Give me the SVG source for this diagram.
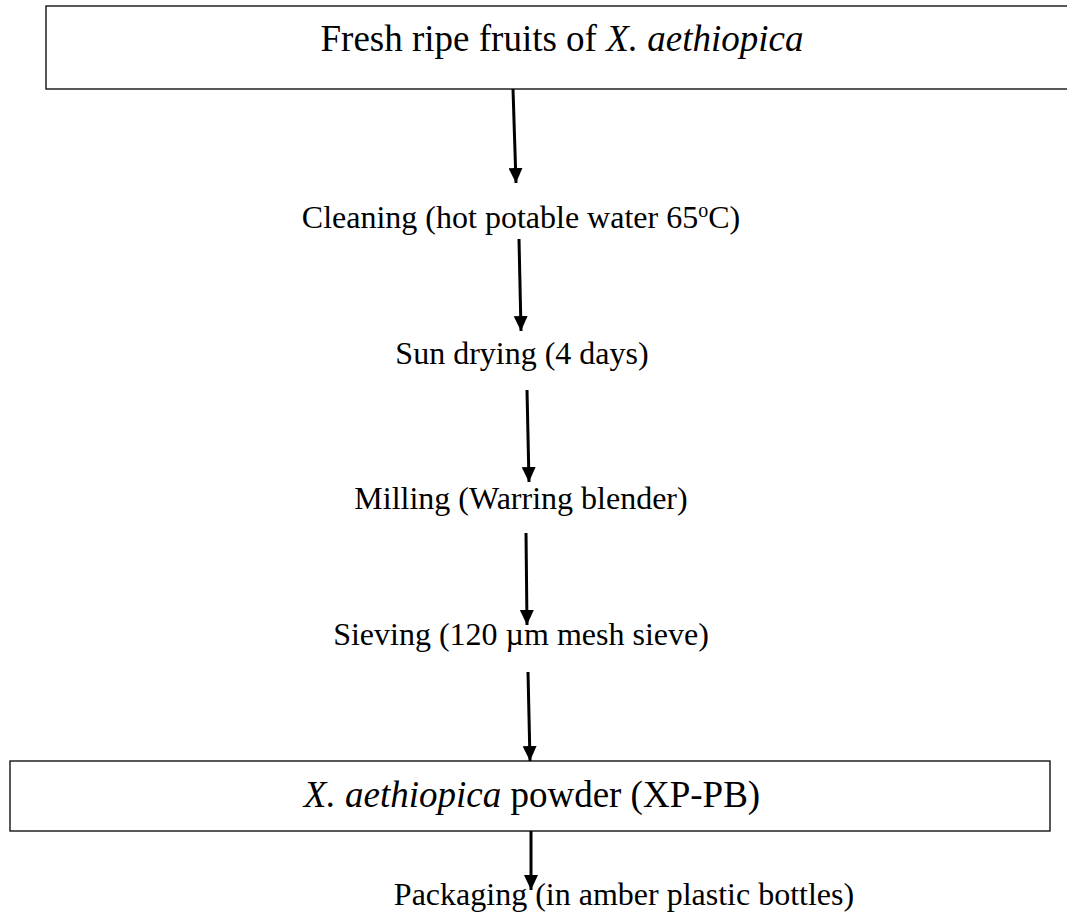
<svg xmlns="http://www.w3.org/2000/svg" width="1067" height="917" viewBox="0 0 1067 917">
<style>
.box{fill:#fff;stroke:#000;stroke-width:1.3}
.t{font-family:"Liberation Serif","Times New Roman",serif;fill:#000}
.big{font-size:37px}
.sm{font-size:32px}
.c{stroke:#000;stroke-width:3;fill:none;marker-end:url(#ah)}
</style>
<defs>
<marker id="ah" markerUnits="userSpaceOnUse" markerWidth="16" markerHeight="16" refX="15" refY="7" orient="auto">
<path d="M0,0 L15,7 L0,14 Z" fill="#000"/>
</marker>
</defs>
<rect width="1067" height="917" fill="#fff"/>
<g id="n1">
<rect class="box" x="46" y="6" width="1030" height="83"/>
<text class="t big" x="562" y="51" text-anchor="middle">Fresh ripe fruits of <tspan font-style="italic">X. aethiopica</tspan></text>
</g>
<g id="n2">
<text class="t sm" x="521" y="228" text-anchor="middle">Cleaning (hot potable water 65<tspan dy="-11" font-size="20">o</tspan><tspan dy="11">C)</tspan></text>
</g>
<g id="n3">
<text class="t sm" x="522" y="364" text-anchor="middle">Sun drying (4 days)</text>
</g>
<g id="n4">
<text class="t sm" x="521" y="509" text-anchor="middle">Milling (Warring blender)</text>
</g>
<g id="n5">
<text class="t sm" x="521" y="645" text-anchor="middle">Sieving (120 µm mesh sieve)</text>
</g>
<g id="n6">
<rect class="box" x="10" y="761" width="1040" height="70"/>
<text class="t big" x="532" y="807" text-anchor="middle"><tspan font-style="italic">X. aethiopica</tspan> powder (XP-PB)</text>
</g>
<g id="n7">
<text class="t sm" x="624" y="905" text-anchor="middle">Packaging (in amber plastic bottles)</text>
</g>
<g id="connectors">
<line class="c" x1="513" y1="89" x2="516" y2="183"/>
<line class="c" x1="519" y1="239" x2="521" y2="331"/>
<line class="c" x1="527" y1="390" x2="529" y2="482"/>
<line class="c" x1="526" y1="533" x2="527" y2="625"/>
<line class="c" x1="528" y1="672" x2="530" y2="761"/>
<line class="c" x1="531" y1="831" x2="531" y2="890"/>
</g>
</svg>
